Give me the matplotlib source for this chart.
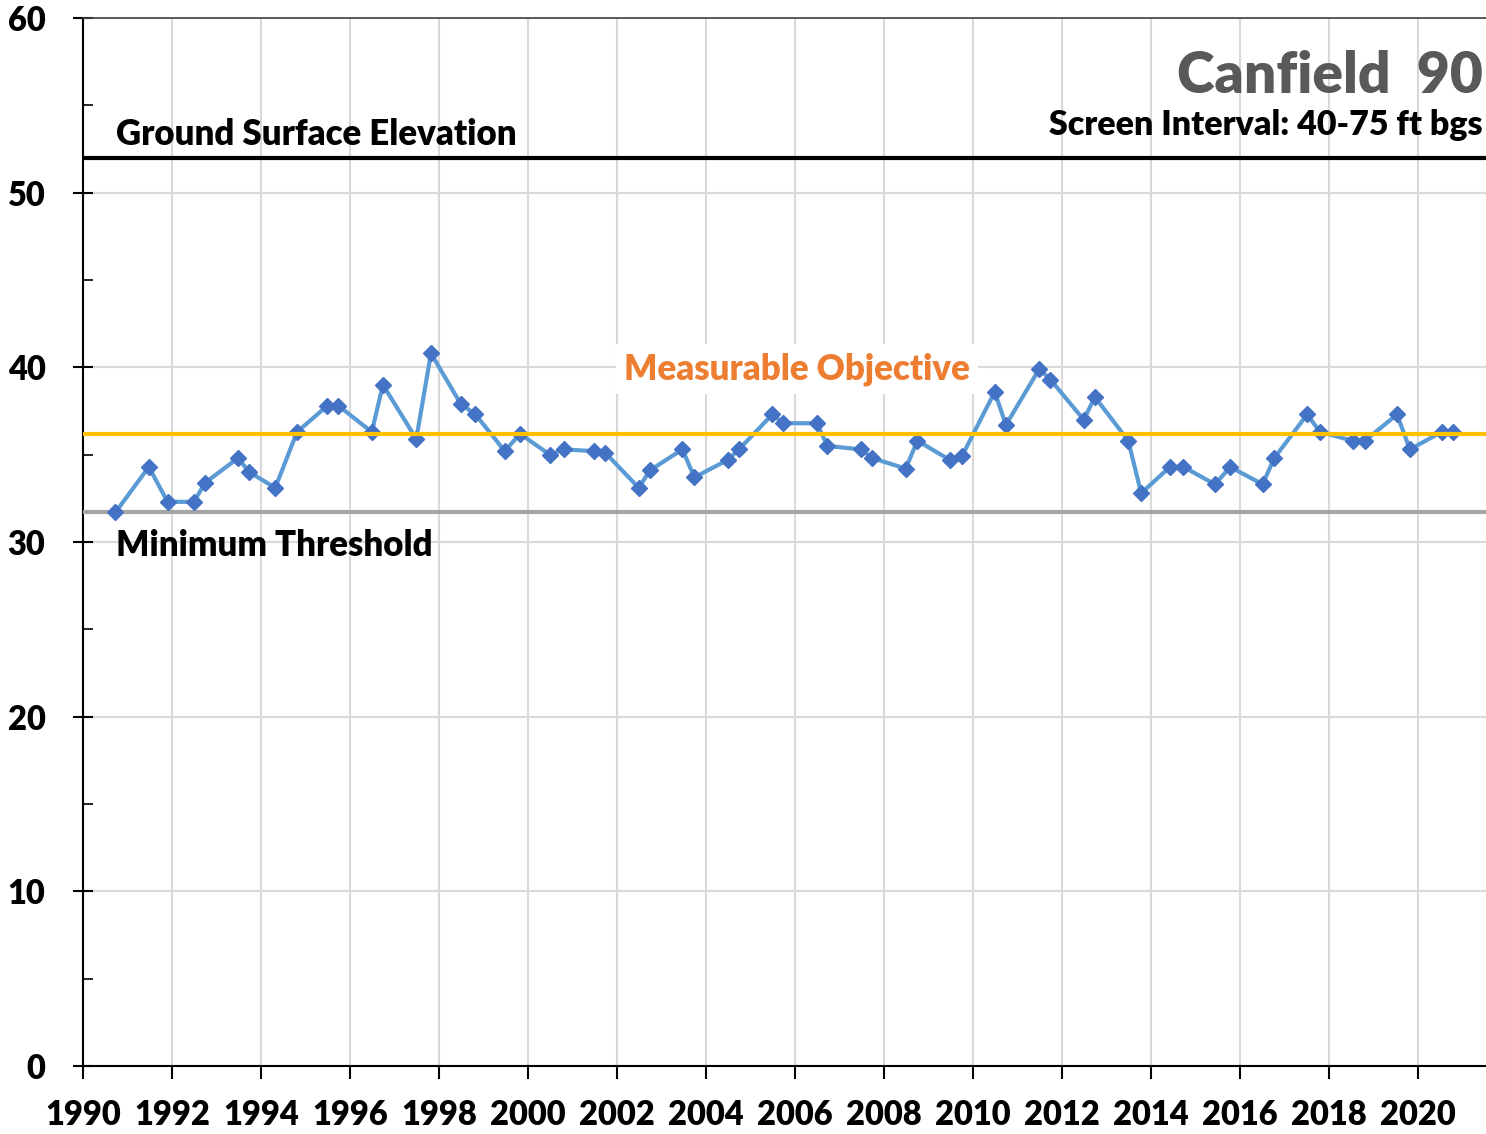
import matplotlib
matplotlib.use("Agg")
import matplotlib.pyplot as plt
from matplotlib.ticker import MultipleLocator

# ---- data ----
years = [1990.73, 1991.48, 1991.90, 1992.49, 1992.75, 1993.48, 1993.74, 1994.32, 1994.81,
         1995.49, 1995.74, 1996.49, 1996.74, 1997.49, 1997.82, 1998.49, 1998.82, 1999.48,
         1999.82, 2000.49, 2000.81, 2001.49, 2001.74, 2002.49, 2002.74, 2003.47, 2003.74,
         2004.49, 2004.74, 2005.49, 2005.74, 2006.49, 2006.73, 2007.48, 2007.74, 2008.49,
         2008.75, 2009.48, 2009.75, 2010.49, 2010.74, 2011.49, 2011.74, 2012.49, 2012.74,
         2013.49, 2013.78, 2014.43, 2014.73, 2015.44, 2015.78, 2016.51, 2016.77, 2017.51,
         2017.80, 2018.53, 2018.81, 2019.53, 2019.82, 2020.53, 2020.79]
elevation = [31.7, 34.3, 32.3, 32.3, 33.4, 34.8, 34.0, 33.1, 36.3,
             37.8, 37.8, 36.3, 39.0, 35.9, 40.8, 37.9, 37.3, 35.2,
             36.2, 35.0, 35.3, 35.2, 35.1, 33.1, 34.1, 35.3, 33.7,
             34.7, 35.3, 37.3, 36.8, 36.8, 35.5, 35.3, 34.8, 34.2,
             35.8, 34.7, 34.9, 38.6, 36.7, 39.9, 39.3, 37.0, 38.3,
             35.8, 32.8, 34.3, 34.3, 33.3, 34.3, 33.3, 34.8, 37.3,
             36.3, 35.8, 35.8, 37.3, 35.3, 36.3, 36.3]
ground_surface = 52.0
measurable_objective = 36.2
minimum_threshold = 31.7
x_ticks = list(range(1990, 2021, 2))
y_ticks = [0, 10, 20, 30, 40, 50, 60]
title = "Canfield  90"
subtitle = "Screen Interval: 40-75 ft bgs"

FONT = ["Lato", "DejaVu Sans"]
W = "heavy"
plt.rcParams["font.family"] = FONT
plt.rcParams["font.weight"] = W

fig = plt.figure(figsize=(14.86, 11.34), dpi=100)
ax = fig.add_axes([83/1486, 68/1134, 1403/1486, 1048/1134])
ax.set_xlim(1990, 2021.53)
ax.set_ylim(0, 60)

ax.set_xticks(x_ticks)
ax.set_yticks(y_ticks)
ax.yaxis.set_minor_locator(MultipleLocator(5))
ax.grid(True, which="major", color="#D9D9D9", linewidth=1.5, zorder=0)
ax.set_axisbelow(True)

ax.spines["right"].set_visible(False)
ax.spines["top"].set_color("#404040")
ax.spines["top"].set_linewidth(1.2)
ax.spines["left"].set_linewidth(1.5)
ax.spines["bottom"].set_linewidth(1.5)

ax.tick_params(axis="x", which="major", direction="out", length=9, width=1.5,
               labelsize=23.5, pad=15)
ax.tick_params(axis="y", which="major", direction="inout", length=14, width=1.5,
               labelsize=23.5, pad=20)
ax.tick_params(axis="y", which="minor", direction="in", length=7, width=1.2)
for lab in ax.get_xticklabels() + ax.get_yticklabels():
    lab.set_fontweight(W)

ax.axhline(ground_surface, color="black", linewidth=3, zorder=3)
ax.axhline(minimum_threshold, color="#A5A5A5", linewidth=3, zorder=3)
ax.axhline(measurable_objective, color="#FFC000", linewidth=3, zorder=5)

ax.plot(years, elevation, color="#5B9BD5", linewidth=3, marker="D", markersize=8,
        markerfacecolor="#4472C4", markeredgecolor="#4472C4", zorder=4)

ax.text(1990.75, 52.4, "Ground Surface Elevation", fontsize=25, fontweight=W,
        color="black", ha="left", va="bottom")
ax.text(1990.75, 29.8, "Minimum Threshold", fontsize=25, fontweight=W,
        color="black", ha="left", va="center")
ax.text(2006.05, 39.9, "Measurable Objective", fontsize=25, fontweight=W,
        color="#ED7D31", ha="center", va="center", zorder=6,
        bbox=dict(facecolor="white", edgecolor="none", pad=6))
ax.text(2021.45, 56.7, title, fontsize=41, fontweight=W, color="#595959",
        ha="right", va="center")
ax.text(2021.45, 53.9, subtitle, fontsize=24.5, fontweight=W, color="black",
        ha="right", va="center")

fig.savefig("out.png", dpi=100)
